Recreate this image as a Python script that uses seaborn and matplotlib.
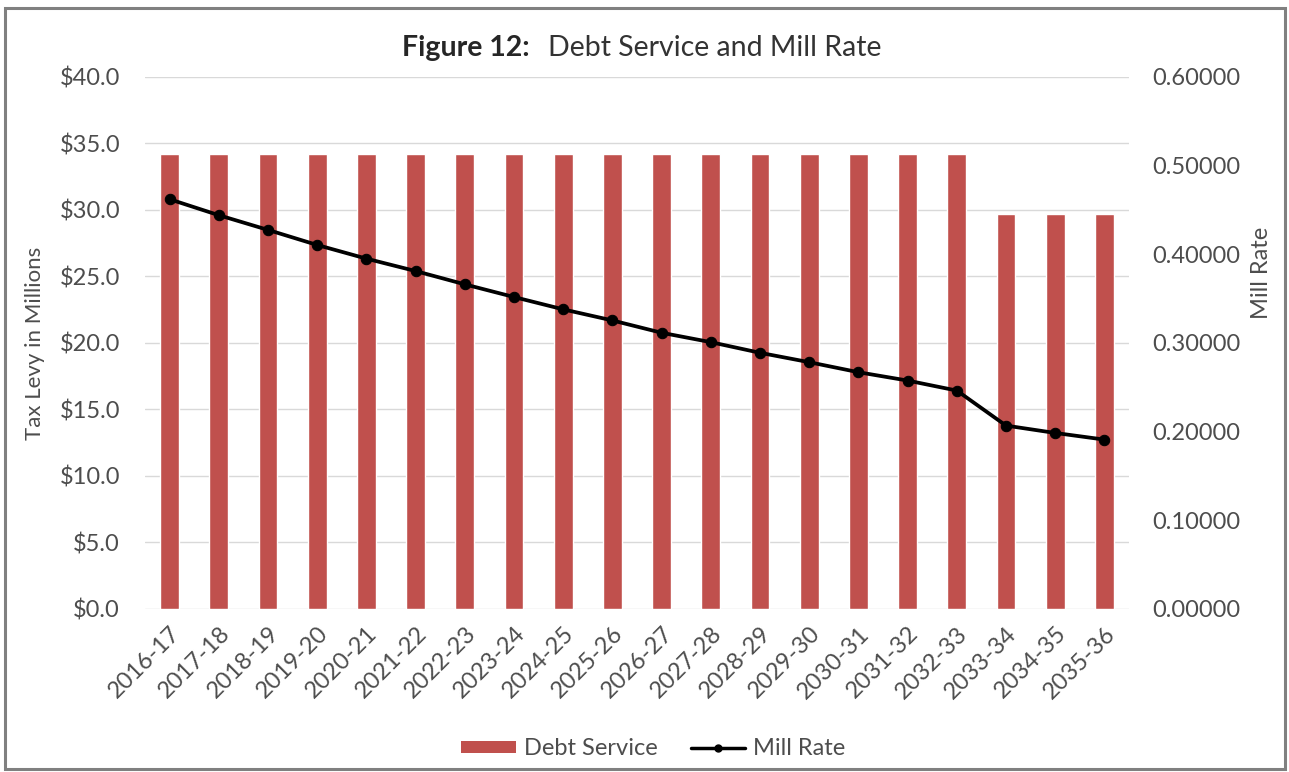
import numpy as np
import pandas as pd
import matplotlib
matplotlib.use("Agg")
import matplotlib.pyplot as plt
from matplotlib.patches import Patch, Rectangle
from matplotlib.lines import Line2D
from matplotlib.ticker import FuncFormatter, MultipleLocator
import seaborn as sns

# Fiscal years
years = ["2016-17", "2017-18", "2018-19", "2019-20", "2020-21", "2021-22",
         "2022-23", "2023-24", "2024-25", "2025-26", "2026-27", "2027-28",
         "2028-29", "2029-30", "2030-31", "2031-32", "2032-33", "2033-34",
         "2034-35", "2035-36"]
# Debt service tax levy, $ millions
debt_service = [34.2] * 17 + [29.7] * 3
# Mill rate
mill_rate = [0.4621, 0.4441, 0.4275, 0.4105, 0.3951, 0.3811, 0.3661, 0.3518,
             0.3379, 0.3254, 0.3115, 0.3009, 0.2889, 0.2783, 0.2670, 0.2576,
             0.2463, 0.2068, 0.1985, 0.1910]

df = pd.DataFrame({"year": years, "debt": debt_service, "mill": mill_rate,
                   "pos": np.arange(len(years))})

sns.set_theme(style="white")
plt.rcParams["font.family"] = ["Lato", "DejaVu Sans"]

BAR = "#C0504D"
TXT = "#4D4D4D"
GRID = "#D9D9D9"
FS = 17

fig = plt.figure(figsize=(12.89, 7.72), dpi=100)
ax = fig.add_axes([0.1125, 0.2112, 0.7634, 0.6891])

sns.barplot(data=df, x="year", y="debt", color=BAR, width=0.38,
            saturation=1, ax=ax, zorder=2)
ax.set_xlim(-0.5, len(years) - 0.5)
ax.set_ylim(0, 40)
ax.yaxis.set_major_locator(MultipleLocator(5))
ax.yaxis.set_major_formatter(FuncFormatter(lambda v, _: f"${v:.1f}"))
ax.grid(axis="y", color=GRID, lw=1, zorder=0)
ax.set_axisbelow(True)
for s in ax.spines.values():
    s.set_visible(False)
ax.tick_params(axis="both", length=0, labelsize=FS, colors=TXT)
ax.tick_params(axis="y", pad=18)
ax.tick_params(axis="x", pad=10)
for lab in ax.get_xticklabels():
    lab.set_rotation(45)
    lab.set_ha("right")
    lab.set_rotation_mode("anchor")
ax.set_xlabel("")
ax.set_ylabel("Tax Levy in Millions", fontsize=16, color=TXT, va="center")
ax.yaxis.set_label_coords(-0.112, 0.5)

ax2 = ax.twinx()
sns.lineplot(data=df, x="pos", y="mill", color="black", lw=2.7, marker="o",
             markersize=7.5, markeredgecolor="black", ax=ax2, zorder=3)
ax2.set_ylim(0, 0.6)
ax2.yaxis.set_major_locator(MultipleLocator(0.1))
ax2.yaxis.set_major_formatter(FuncFormatter(lambda v, _: f"{v:.5f}"))
for s in ax2.spines.values():
    s.set_visible(False)
ax2.tick_params(axis="y", length=0, labelsize=FS, colors=TXT, pad=17)
ax2.set_ylabel("Mill Rate", fontsize=17, color=TXT, va="center")
ax2.yaxis.set_label_coords(1.135, 0.632)
ax2.set_xlabel("")
ax2.grid(False)

# Title: bold figure number followed by regular text
fig.text(0.411, 0.938, "Figure 12:", fontsize=20.5, fontweight="bold",
         color="#262626", ha="right", va="center")
fig.text(0.425, 0.938, "Debt Service and Mill Rate", fontsize=20.5,
         color="#333333", ha="left", va="center")

handles = [Patch(facecolor=BAR, edgecolor="none", label="Debt Service"),
           Line2D([0], [0], color="black", lw=2.5, marker="o", markersize=5,
                  label="Mill Rate")]
fig.legend(handles=handles, loc="center", bbox_to_anchor=(0.507, 0.030),
           ncol=2, frameon=False, fontsize=FS, handlelength=2.3,
           handleheight=0.4, handletextpad=0.35, columnspacing=1.4,
           labelcolor=TXT)

# Outer frame
fig.patches.append(Rectangle((0.004, 0.004), 0.993, 0.986,
                             transform=fig.transFigure, fill=False,
                             edgecolor="#808080", lw=2.2))

fig.savefig("out.png", dpi=100, facecolor="white")
